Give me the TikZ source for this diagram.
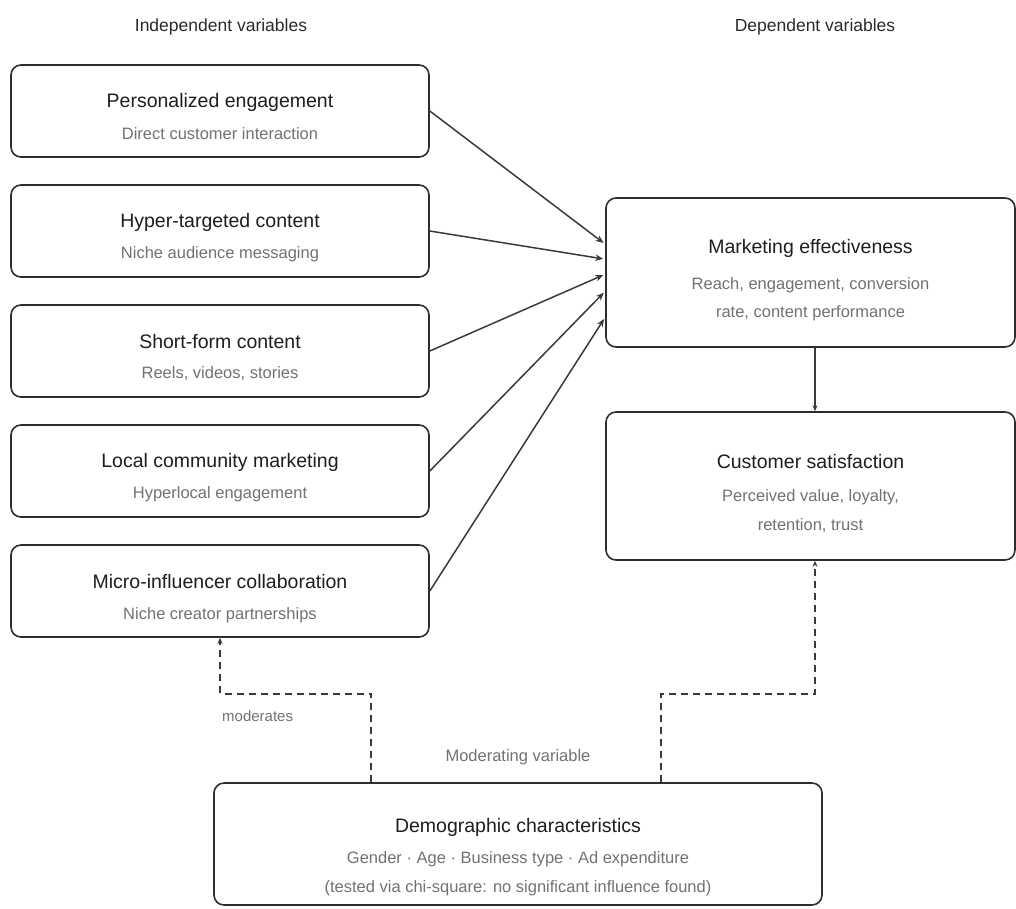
\documentclass[tikz,border=0pt]{standalone}
\usepackage{fontspec}
\setmainfont{Liberation Sans}
\usetikzlibrary{arrows.meta,calc}
\definecolor{bordc}{HTML}{2E2E2E}
\definecolor{titlec}{HTML}{1E1E1E}
\definecolor{subc}{HTML}{727272}
\definecolor{linec}{HTML}{3A3A3A}
\definecolor{hdrc}{HTML}{2A2A2A}
\tikzset{
 box/.style={draw=bordc, line width=1.6pt, rounded corners=10pt, inner sep=0pt, fill=white},
 lbox/.style={box, minimum width=418pt, minimum height=92pt},
 rbox/.style={box, minimum width=409pt, minimum height=149pt},
 ttl/.style={text=titlec, font=\fontsize{19.5}{23}\selectfont, inner sep=0pt},
 sub/.style={text=subc, font=\fontsize{16.5}{20}\selectfont, inner sep=0pt},
 hdr/.style={text=hdrc, font=\fontsize{17.5}{21}\selectfont, inner sep=0pt},
 conn/.style={draw=linec, line width=1.5pt, -{Stealth[length=8pt,width=6.5pt]}},
 modconn/.style={draw=linec, line width=1.6pt, dash pattern=on 7pt off 5pt, -{Stealth[length=6pt,width=5pt]}},
}
\begin{document}
\begin{tikzpicture}[x=1pt,y=-1pt]
\useasboundingbox (0,0) rectangle (1016,908);
% headers
\node[hdr] (hind) at (221,27) {Independent variables};
\node[hdr] (hdep) at (815,27) {Dependent variables};
% left boxes
\node[lbox] (b1) at (220,111) {};
\node[lbox] (b2) at (220,231) {};
\node[lbox] (b3) at (220,351) {};
\node[lbox] (b4) at (220,471) {};
\node[lbox] (b5) at (220,591) {};
\node[ttl] (t1) at ($(b1.center)+(0,-9)$) {Personalized engagement};
\node[sub] (s1) at ($(b1.center)+(0,23)$) {Direct customer interaction};
\node[ttl] (t2) at ($(b2.center)+(0,-9)$) {Hyper-targeted content};
\node[sub] (s2) at ($(b2.center)+(0,23)$) {Niche audience messaging};
\node[ttl] (t3) at ($(b3.center)+(0,-9)$) {Short-form content};
\node[sub] (s3) at ($(b3.center)+(0,23)$) {Reels, videos, stories};
\node[ttl] (t4) at ($(b4.center)+(0,-9)$) {Local community marketing};
\node[sub] (s4) at ($(b4.center)+(0,23)$) {Hyperlocal engagement};
\node[ttl] (t5) at ($(b5.center)+(0,-9)$) {Micro-influencer collaboration};
\node[sub] (s5) at ($(b5.center)+(0,24)$) {Niche creator partnerships};
% right boxes
\node[rbox] (me) at (810.5,272.5) {};
\node[ttl] (tme) at (810.5,248) {Marketing effectiveness};
\node[sub] (sme1) at (810.5,285) {Reach, engagement, conversion};
\node[sub] (sme2) at (810.5,313) {rate, content performance};
\node[rbox, minimum height=148pt] (cs) at (810.5,486) {};
\node[ttl] (tcs) at (810.5,462) {Customer satisfaction};
\node[sub] (scs1) at (810.5,497) {Perceived value, loyalty,};
\node[sub] (scs2) at (810.5,526) {retention, trust};
% bottom box
\node[box, minimum width=608pt, minimum height=122pt] (dem) at (518,844) {};
\node[ttl] (tdem) at (518,827) {Demographic characteristics};
\node[sub] (sdem1) at (518,859) {Gender · Age · Business type · Ad expenditure};
\node[sub] (sdem2) at (518,888) {(tested via chi-square: no significant influence found)};
\node[sub] (mv) at (518,757) {Moderating variable};
\node[sub, font=\fontsize{15}{18}\selectfont, anchor=west] (mod) at (222,716) {moderates};
% arrow targets
\coordinate (e1) at ($(me.north west)+(0,47)$);
\coordinate (e2) at ($(me.north west)+(0,62)$);
\coordinate (e3) at ($(me.north west)+(0,77)$);
\coordinate (e4) at ($(me.north west)+(0,94)$);
\coordinate (e5) at ($(me.north west)+(0,120)$);
\draw[conn, shorten >=2pt] (b1.east) -- (e1);
\draw[conn, shorten >=2pt] (b2.east) -- (e2);
\draw[conn, shorten >=2pt] (b3.east) -- (e3);
\draw[conn, shorten >=2pt] (b4.east) -- (e4);
\draw[conn, shorten >=2pt] (b5.east) -- (e5);
% me -> cs
\coordinate (mes) at ($(me.south)+(4.5,0)$);
\coordinate (csn) at ($(cs.north)+(4.5,0)$);
\draw[conn, -{Stealth[length=6pt,width=5pt]}] (mes) -- (csn);
% moderating dashed
\coordinate (dl) at ($(dem.north west)+(158,0)$);
\coordinate (dr) at ($(dem.north west)+(448,0)$);
\coordinate (css) at ($(cs.south)+(4.5,0)$);
\draw[modconn] (dl) |- ($(b5.south)+(0,56)$) -- (b5.south);
\draw[modconn] (dr) |- ($(css)+(0,133)$) -- (css);
\end{tikzpicture}
\end{document}
